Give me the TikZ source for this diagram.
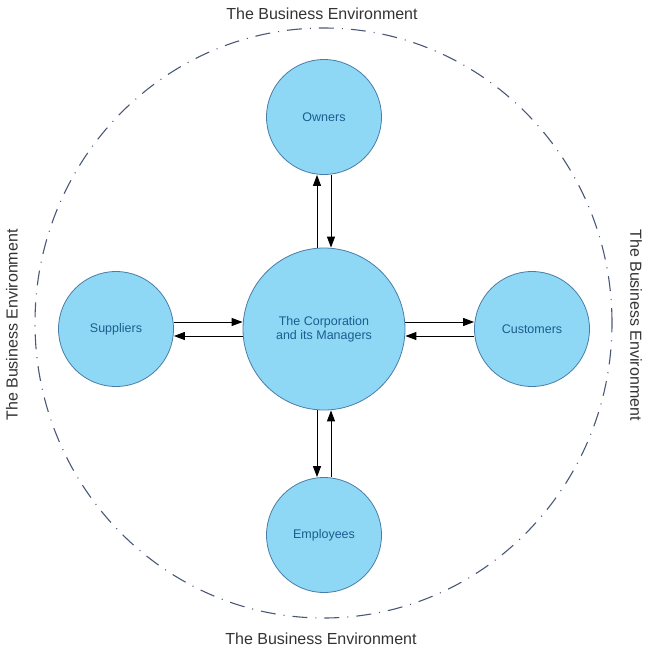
\documentclass[tikz,border=0pt]{standalone}
\usepackage{fontspec}
\setmainfont{Liberation Sans}
\usepackage{xcolor}
\usepackage{tikz}
\usetikzlibrary{calc,arrows.meta}
\definecolor{ink}{HTML}{333333}
\definecolor{fillb}{HTML}{8ED8F5}
\definecolor{edgeb}{HTML}{4A7DA8}
\definecolor{textb}{HTML}{1D5C8E}
\definecolor{envl}{HTML}{4A5878}
\tikzset{
  party/.style={circle, draw=edgeb, fill=fillb, line width=0.8pt, inner sep=0pt,
    minimum size=115pt, text=textb, font=\fontsize{12.5}{14}\selectfont, align=center},
  core/.style={party, minimum size=162pt},
  flow/.style={draw=black, line width=1pt, -{Triangle[length=11pt,width=8pt]}},
  env/.style={draw=envl, line width=1.1pt, dash pattern=on 15pt off 8pt on 1pt off 8pt},
  lab/.style={text=ink, font=\fontsize{16}{19}\selectfont},
}
\begin{document}
\begin{tikzpicture}[x=1pt,y=1pt]
  \useasboundingbox (0,0) rectangle (647,-651);
  \draw[env] (323.5,-323) ellipse (288.5 and 295);
  \node[lab] (envT) at (322,-14) {The Business Environment};
  \node[lab] (envB) at (321,-639) {The Business Environment};
  \node[lab,rotate=90] (envL) at (12,-325) {The Business Environment};
  \node[lab,rotate=-90] (envR) at (636,-325) {The Business Environment};
  % parties
  \node[core] (corp) at (324,-329) {The Corporation\\and its Managers};
  \node[party] (own) at (324,-117) {Owners};
  \node[party] (sup) at (116,-329) {Suppliers};
  \node[party] (cus) at (532,-329) {Customers};
  \node[party] (emp) at (324,-535) {Employees};
  % flows
  \draw[flow] ([xshift=-7pt]corp.north) -- ([xshift=-7pt]own.south);
  \draw[flow] ([xshift=7pt]own.south) -- ([xshift=7pt]corp.north);
  \draw[flow] ([xshift=-7pt]corp.south) -- ([xshift=-7pt]emp.north);
  \draw[flow] ([xshift=7pt]emp.north) -- ([xshift=7pt]corp.south);
  \draw[flow] ([yshift=7pt]sup.east) -- ([yshift=7pt]corp.west);
  \draw[flow] ([yshift=-7pt]corp.west) -- ([yshift=-7pt]sup.east);
  \draw[flow] ([yshift=7pt]corp.east) -- ([yshift=7pt]cus.west);
  \draw[flow] ([yshift=-7pt]cus.west) -- ([yshift=-7pt]corp.east);
\end{tikzpicture}
\end{document}
